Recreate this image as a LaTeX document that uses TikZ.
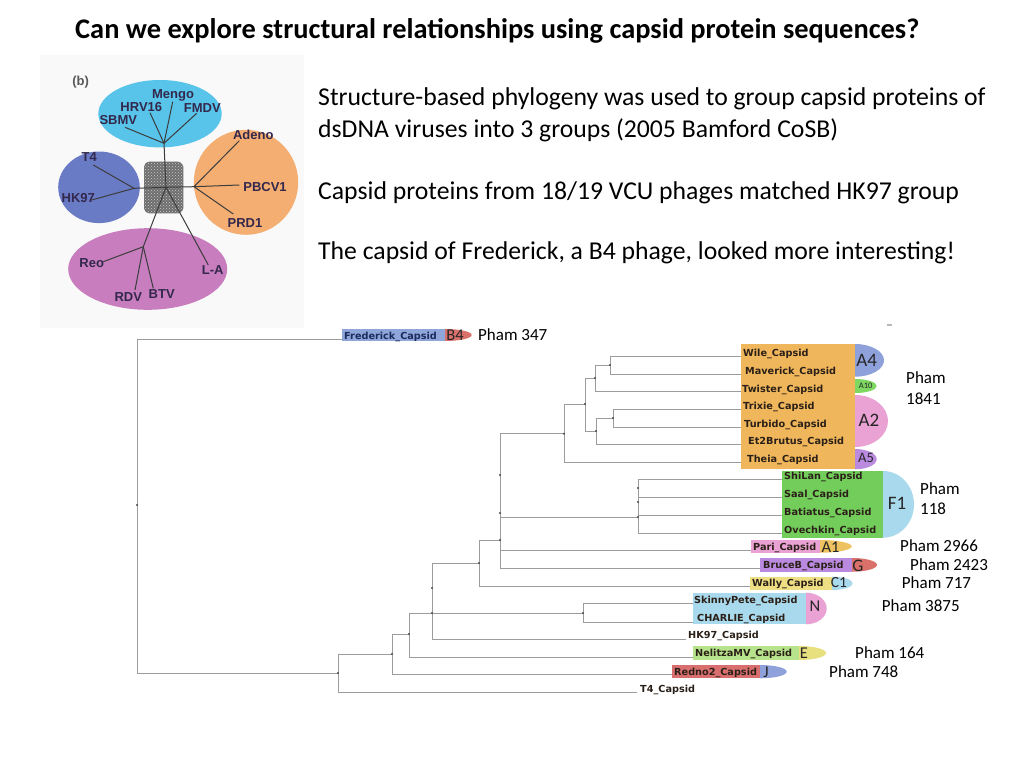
\documentclass[tikz,border=0pt]{standalone}
\usepackage{fontspec}
\setmainfont{Carlito}
\newfontfamily\lblfont{DejaVu Sans}
\newfontfamily\arialfont{Liberation Sans}
\usetikzlibrary{patterns}
\definecolor{treegray}{HTML}{9C9C9C}
\definecolor{dotgray}{HTML}{4A4A4A}
\definecolor{lbltext}{HTML}{2B2018}
\definecolor{fredtext}{HTML}{1C2B5C}
\definecolor{insettext}{HTML}{33284C}
\definecolor{insetbg}{HTML}{F9F9F9}
\definecolor{cyanell}{HTML}{58C4EA}
\definecolor{blueell}{HTML}{6A7BC6}
\definecolor{orangeell}{HTML}{F5AE72}
\definecolor{pinkell}{HTML}{C77DBE}
\definecolor{hubgray}{HTML}{6E6E6E}
\definecolor{insetline}{HTML}{3C3C3C}
\definecolor{fredbox}{HTML}{8EA6D9}
\definecolor{tagred}{HTML}{D9706A}
\definecolor{orangebox}{HTML}{EFB65B}
\definecolor{tagblue}{HTML}{8FA1DA}
\definecolor{taggreen}{HTML}{7FD862}
\definecolor{tagpink}{HTML}{E9A2D3}
\definecolor{tagpurple}{HTML}{B98AE0}
\definecolor{greenbox}{HTML}{73CD5B}
\definecolor{lightblue}{HTML}{A9D9EC}
\definecolor{tagyelor}{HTML}{EEC261}
\definecolor{yellowbox}{HTML}{EEDF85}
\definecolor{lightgreen}{HTML}{B7E38C}
\definecolor{tagyellow}{HTML}{E8E07E}
\definecolor{redbox}{HTML}{D96E6E}
\newcommand\captag[5]{%
 \pgfmathsetmacro\ctA{#1+0.5523*(#4-#1)}%
 \pgfmathsetmacro\ctM{(#2+#3)/2}%
 \pgfmathsetmacro\ctB{\ctM-0.5523*(#3-#2)/2}%
 \pgfmathsetmacro\ctC{\ctM+0.5523*(#3-#2)/2}%
 \fill[#5] (#1,#2) .. controls (\ctA,#2) and (#4,\ctB) .. (#4,\ctM) .. controls (#4,\ctC) and (\ctA,#3) .. (#1,#3) -- cycle;}
\begin{document}
\begin{tikzpicture}[x=1pt,y=-1pt,
  branch/.style={draw=treegray, line width=0.8pt},
  leaflbl/.style={font=\lblfont\bfseries\fontsize{9.7}{10}\selectfont, text=lbltext, inner sep=0pt, anchor=base west},
  tagtxt/.style={font=\fontsize{16.5}{16}\selectfont, text=black!85, inner sep=0pt},
  phamtxt/.style={font=\fontsize{17}{17}\selectfont, text=black, inner sep=0pt, anchor=west},
  bodytxt/.style={font=\fontsize{25.7}{26}\selectfont, text=black, inner sep=0pt, anchor=base west},
  insetlbl/.style={font=\arialfont\bfseries\fontsize{13}{13}\selectfont, text=insettext, inner sep=0pt},
  insetln/.style={draw=insetline, line width=1pt}]
\useasboundingbox (0,0) rectangle (1024,768);
\fill[white] (0,0) rectangle (1024,768);

% ---------- title and text ----------
\node[font=\bfseries\fontsize{28.4}{29}\selectfont, inner sep=0pt, anchor=base west] (title) at (75,38.3)
  {Can we explore structural relationships using capsid protein sequences?};
\node[bodytxt] (t1) at (318,105.7) {Structure-based phylogeny was used to group capsid proteins of};
\node[bodytxt] (t2) at (318,137.3) {dsDNA viruses into 3 groups (2005 Bamford CoSB)};
\node[bodytxt] (t3) at (318,199.7) {Capsid proteins from 18/19 VCU phages matched HK97 group};
\node[bodytxt] (t4) at (318,259.7) {The capsid of Frederick, a B4 phage, looked more interesting!};

% ---------- inset ----------
\fill[insetbg] (40,55) rectangle (304,328);
\fill[cyanell] (160,113.7) ellipse [x radius=61.7, y radius=33.7];
\fill[blueell] (99,187.3) ellipse [x radius=40.8, y radius=35.8];
\fill[orangeell] (246,182.3) ellipse [x radius=52.2, y radius=52.5];
\fill[pinkell] (147.7,269) ellipse [x radius=79.5, y radius=40.8];
\fill[hubgray, rounded corners=5pt] (144,161.7) rectangle (183.3,213.3);
\fill[pattern=crosshatch dots, pattern color=gray!40, rounded corners=5pt] (144,161.7) rectangle (183.3,213.3);
\coordinate (ic) at (166,187.3);
\coordinate (iu) at (164,143.3);
\coordinate (il) at (134,188.3);
\coordinate (ir) at (194,186.7);
\coordinate (id) at (143.3,246.7);
\coordinate (eSBMV) at (125,127.3);
\coordinate (eHRV) at (150,112.7);
\coordinate (eMengo) at (172.7,101.7);
\coordinate (eFMDV) at (196.7,113.3);
\coordinate (eT4) at (93.3,165);
\coordinate (eHK) at (91.7,200);
\coordinate (eAdeno) at (239.3,140.7);
\coordinate (ePBCV) at (239.3,185);
\coordinate (ePRD) at (233.3,214);
\coordinate (eReo) at (103.3,261.7);
\coordinate (eRDV) at (135,290);
\coordinate (eBTV) at (153.3,288.3);
\coordinate (eLA) at (208.3,265);
\draw[insetln] (ic) -- (iu);
\draw[insetln] (ic) -- (il);
\draw[insetln] (ic) -- (ir);
\draw[insetln] (ic) -- (id);
\draw[insetln] (ic) -- (eLA);
\draw[insetln] (iu) -- (eSBMV);
\draw[insetln] (iu) -- (eHRV);
\draw[insetln] (iu) -- (eMengo);
\draw[insetln] (iu) -- (eFMDV);
\draw[insetln] (il) -- (eT4);
\draw[insetln] (il) -- (eHK);
\draw[insetln] (ir) -- (eAdeno);
\draw[insetln] (ir) -- (ePBCV);
\draw[insetln] (ir) -- (ePRD);
\draw[insetln] (id) -- (eReo);
\draw[insetln] (id) -- (eRDV);
\draw[insetln] (id) -- (eBTV);
\node[insetlbl, text=black!65] (lb) at (80.7,82.3) {(b)};
\node[insetlbl] (lMengo) at (173,95.7) {Mengo};
\node[insetlbl] (lHRV) at (141.3,107) {HRV16};
\node[insetlbl] (lFMDV) at (202.3,108.3) {FMDV};
\node[insetlbl] (lSBMV) at (118.3,120) {SBMV};
\node[insetlbl] (lAdeno) at (253.3,134.7) {Adeno};
\node[insetlbl] (lT4) at (89.3,156.7) {T4};
\node[insetlbl] (lPBCV) at (265,186.7) {PBCV1};
\node[insetlbl] (lHK) at (78.3,198.3) {HK97};
\node[insetlbl] (lPRD) at (245,223.3) {PRD1};
\node[insetlbl] (lReo) at (91.7,263.3) {Reo};
\node[insetlbl] (lLA) at (212.7,270) {L-A};
\node[insetlbl] (lRDV) at (128.3,297.3) {RDV};
\node[insetlbl] (lBTV) at (161.7,294) {BTV};

% ---------- coloured label boxes ----------
\fill[fredbox] (342.3,329) rectangle (445,341);
\captag{445}{329}{341}{471.7}{tagred}
\fill[orangebox] (740.7,344) rectangle (855,469.3);
\captag{855}{344}{376.7}{884}{tagblue}
\captag{855}{379}{393}{876.7}{taggreen}
\captag{855}{395}{447}{888}{tagpink}
\captag{855}{449}{469.3}{876.7}{tagpurple}
\fill[greenbox] (782.3,471) rectangle (883,537.7);
\captag{883}{471}{537.7}{914}{lightblue}
\fill[tagpink] (750.7,540) rectangle (820,552.7);
\captag{820}{540}{552.7}{851.7}{tagyelor}
\fill[tagpurple] (760,558) rectangle (852,571.7);
\captag{852}{558}{571.7}{877}{tagred}
\fill[yellowbox] (750,576.7) rectangle (832,590);
\captag{832}{576.7}{590}{852.7}{lightblue}
\fill[lightblue] (692.7,592.7) rectangle (806,624.3);
\captag{806}{592.7}{624.3}{826.7}{tagpink}
\fill[lightgreen] (693,646) rectangle (799,660);
\captag{799}{646}{660}{826}{tagyellow}
\fill[redbox] (671.7,665) rectangle (760,678.3);
\captag{760}{665}{678.3}{786.7}{tagblue}
\fill[gray!55] (886.5,324) rectangle (891.5,326);

% ---------- tree ----------
\coordinate (nroot) at (137,505);
\coordinate (n1) at (338,673);
\coordinate (n2) at (392,654);
\coordinate (n3) at (409,634);
\coordinate (n4) at (432,613);
\coordinate (n5) at (583,613);
\coordinate (n6) at (479,563);
\coordinate (n7) at (500,540);
\coordinate (nf) at (638,517);
\coordinate (na) at (564,433.7);
\coordinate (nb) at (585,404);
\coordinate (nc) at (595,378);
\coordinate (ne) at (610,365);
\coordinate (nd) at (596,431);
\coordinate (ng) at (613,418);
\coordinate (fredE) at (342.3,339);
\coordinate (t4E) at (637,692);
\coordinate (redE) at (671.7,674);
\coordinate (nelE) at (693,657);
\coordinate (hkE) at (686,639);
\coordinate (skE) at (692.7,603);
\coordinate (chE) at (692.7,622);
\coordinate (wallyE) at (750,586);
\coordinate (pariE) at (750.7,550.7);
\coordinate (bruceE) at (760,568.3);
\coordinate (shE) at (782.3,479.3);
\coordinate (saE) at (782.3,497.3);
\coordinate (baE) at (782.3,515.3);
\coordinate (ovE) at (782.3,533);
\coordinate (theiaE) at (740.7,462.3);
\coordinate (twE) at (740.7,391.7);
\coordinate (wileE) at (740.7,356);
\coordinate (mavE) at (740.7,374.3);
\coordinate (etE) at (740.7,444.3);
\coordinate (trE) at (740.7,409.3);
\coordinate (tuE) at (740.7,427.3);
\foreach \p/\c in {nroot/fredE, nroot/n1, n1/t4E, n1/n2, n2/n3, n2/redE, n3/n4, n3/nelE,
  n4/n6, n4/n5, n4/hkE, n5/skE, n5/chE, n6/n7, n6/wallyE, n7/na, n7/nf, n7/pariE, n7/bruceE,
  nf/shE, nf/saE, nf/baE, nf/ovE, na/nb, na/theiaE, nb/nc, nb/nd, nc/ne, nc/twE,
  ne/wileE, ne/mavE, nd/ng, nd/etE, ng/trE, ng/tuE}
  {\draw[branch] (\p) |- (\c);}
\foreach \p in {nroot,n1,n2,n3,n4,n5,n6,n7,nf,na,nb,nc,ne,nd,ng}
  {\fill[dotgray] (\p) circle[radius=1.1];}
\fill[dotgray] (432,588) circle[radius=1.1];
\fill[dotgray] (500,475) circle[radius=1.1];
\fill[dotgray] (500,513) circle[radius=1.1];
\fill[dotgray] (638,488) circle[radius=1.1];
\fill[dotgray] (638,502) circle[radius=1.1];

% ---------- leaf labels ----------
\node[leaflbl, text=fredtext] (fred) at (344,339) {Frederick\_Capsid};
\node[leaflbl] (wile) at (743,356.5) {Wile\_Capsid};
\node[leaflbl] (mav) at (745,374.5) {Maverick\_Capsid};
\node[leaflbl] (tw) at (742,392) {Twister\_Capsid};
\node[leaflbl] (tr) at (743,409.5) {Trixie\_Capsid};
\node[leaflbl] (tu) at (744,427.5) {Turbido\_Capsid};
\node[leaflbl] (et) at (748,444.5) {Et2Brutus\_Capsid};
\node[leaflbl] (th) at (747,462.5) {Theia\_Capsid};
\node[leaflbl] (sh) at (784,479.5) {ShiLan\_Capsid};
\node[leaflbl] (sa) at (784,497.5) {Saal\_Capsid};
\node[leaflbl] (ba) at (784,515.5) {Batiatus\_Capsid};
\node[leaflbl] (ov) at (784,533) {Ovechkin\_Capsid};
\node[leaflbl] (pa) at (753,550.5) {Pari\_Capsid};
\node[leaflbl] (br) at (763,568.5) {BruceB\_Capsid};
\node[leaflbl] (wa) at (752,586.5) {Wally\_Capsid};
\node[leaflbl] (sk) at (694,603) {SkinnyPete\_Capsid};
\node[leaflbl] (ch) at (697,621) {CHARLIE\_Capsid};
\node[leaflbl] (hk) at (688,638.5) {HK97\_Capsid};
\node[leaflbl] (ne) at (695,656.5) {NelitzaMV\_Capsid};
\node[leaflbl] (re) at (674,675) {Redno2\_Capsid};
\node[leaflbl] (t4) at (640,692) {T4\_Capsid};

% ---------- tag letters ----------
\node[tagtxt] (gB4) at (455,335) {B4};
\node[tagtxt, font=\fontsize{19}{19}\selectfont] (gA4) at (866.7,360.7) {A4};
\node[tagtxt, font=\fontsize{8.5}{8}\selectfont] (gA10) at (865.7,385.5) {A10};
\node[tagtxt, font=\fontsize{19}{19}\selectfont] (gA2) at (869,420) {A2};
\node[tagtxt, font=\fontsize{14.5}{14}\selectfont] (gA5) at (866,458) {A5};
\node[tagtxt, font=\fontsize{19}{19}\selectfont] (gF1) at (897,503) {F1};
\node[tagtxt] (gA1) at (830.5,547) {A1};
\node[tagtxt, font=\fontsize{17.5}{17}\selectfont] (gG) at (858,566) {G};
\node[tagtxt, font=\fontsize{15.5}{15}\selectfont] (gC1) at (839,583) {C1};
\node[tagtxt] (gN) at (815,606) {N};
\node[tagtxt] (gE) at (804,653) {E};
\node[tagtxt] (gJ) at (766,672) {J};

% ---------- pham labels ----------
\node[phamtxt] (p347) at (478,335) {Pham 347};
\node[phamtxt] (p1841a) at (906,378) {Pham};
\node[phamtxt] (p1841b) at (906,399) {1841};
\node[phamtxt] (p118a) at (920,489) {Pham};
\node[phamtxt] (p118b) at (920,509) {118};
\node[phamtxt] (p2966) at (900,546) {Pham 2966};
\node[phamtxt] (p2423) at (910,565) {Pham 2423};
\node[phamtxt] (p717) at (901.7,583) {Pham 717};
\node[phamtxt] (p3875) at (881.7,606) {Pham 3875};
\node[phamtxt] (p164) at (855,653) {Pham 164};
\node[phamtxt] (p748) at (829,672) {Pham 748};
\end{tikzpicture}
\end{document}
